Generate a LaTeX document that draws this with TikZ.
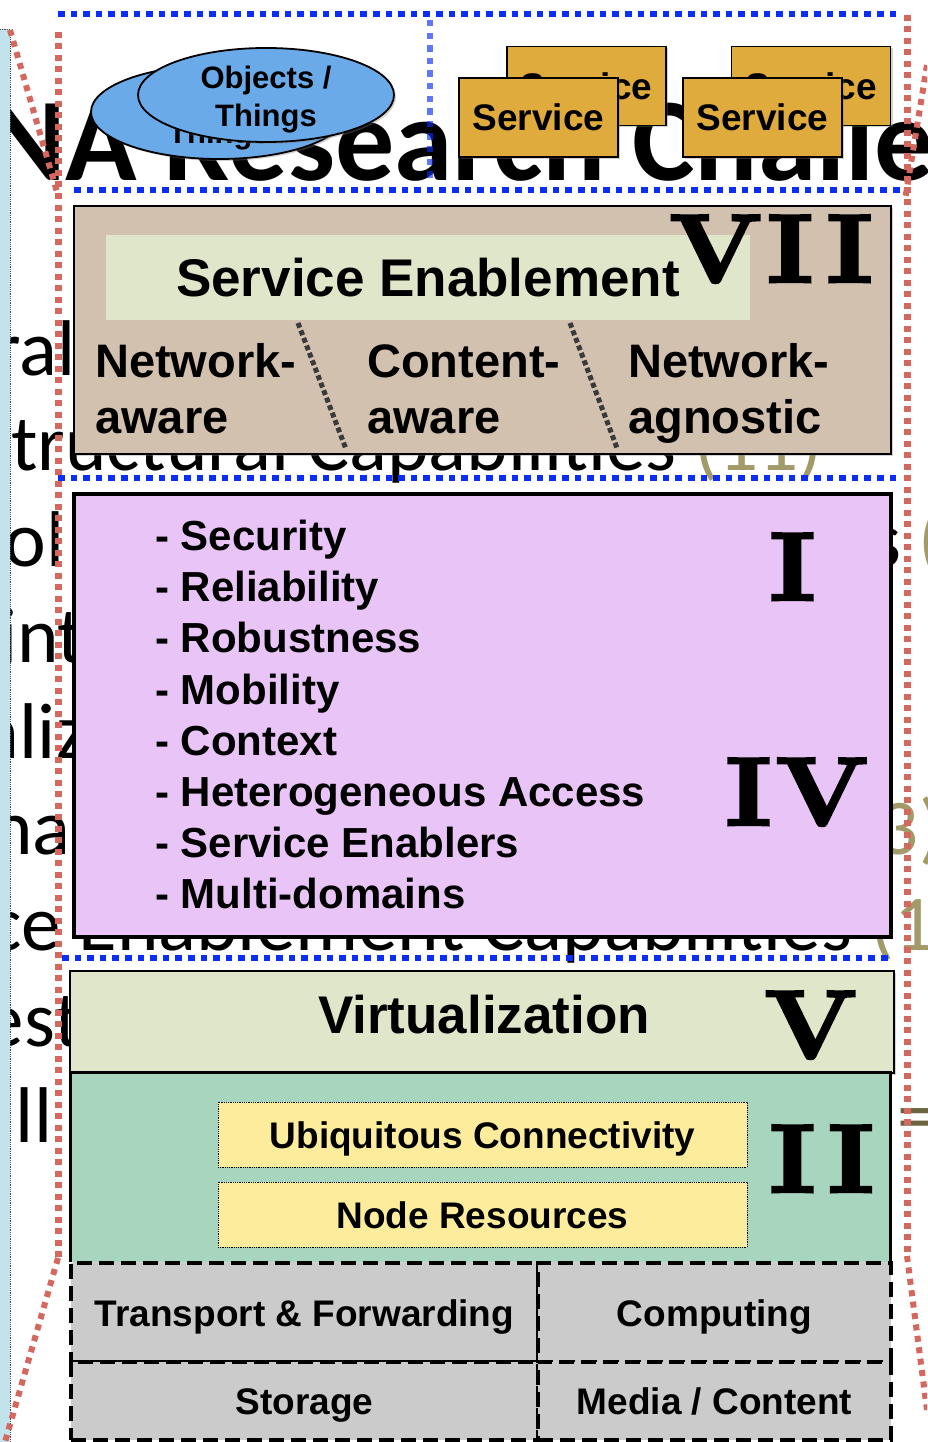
\documentclass[tikz,border=0pt]{standalone}
\usepackage{fontspec}
\usetikzlibrary{shapes.geometric,shadows}
\newfontfamily\arialf{Liberation Sans}
\newfontfamily\calf{Carlito}
\newfontfamily\numfont{lmroman10-bold.otf}[FakeBold=3, FakeStretch=1.1]
\definecolor{blueD}{HTML}{0A2EF5}
\definecolor{redD}{HTML}{D4675E}
\definecolor{stripc}{HTML}{C2E3EC}
\definecolor{brownc}{HTML}{D3C1B0}
\definecolor{lgreen}{HTML}{DFE6C9}
\definecolor{purpc}{HTML}{E9C5F7}
\definecolor{tealc}{HTML}{A8D5BE}
\definecolor{yelc}{HTML}{FCEC9B}
\definecolor{grayc}{HTML}{CBCBCB}
\definecolor{ellblue}{HTML}{6AAAE9}
\definecolor{svccol}{HTML}{DFAB3C}
\definecolor{olivetx}{HTML}{A39A6A}
\definecolor{eqcol}{HTML}{6B6440}
\definecolor{divcol}{HTML}{3A3A3A}
\begin{document}
\begin{tikzpicture}[x=1pt,y=-1pt,
  bgtext/.style={anchor=base west, inner sep=0pt, outer sep=0pt, font=\calf\fontsize{79}{79}\selectfont},
  reddot/.style={draw=redD, line width=6pt, dash pattern=on 6pt off 5.5pt},
  divdot/.style={draw=divcol, line width=5pt, dash pattern=on 5pt off 3pt},
  shad/.style={drop shadow={opacity=0.35, shadow xshift=2pt, shadow yshift=-2pt}},
  layer/.style={rectangle, draw=black, inner sep=0pt, shad},
  ellip/.style={ellipse, draw=black, line width=1.8pt, fill=ellblue, minimum width=256pt, minimum height=94pt, inner sep=0pt, shad},
  elltext/.style={align=center, inner sep=0pt, font=\arialf\bfseries\fontsize{31}{38}\selectfont},
  svc/.style={rectangle, draw=black, line width=1.5pt, fill=svccol, minimum width=159pt, minimum height=79pt, inner sep=0pt, text height=27pt, text depth=0pt, font=\arialf\bfseries\fontsize{37}{40}\selectfont, shad},
  big/.style={inner sep=0pt, font=\arialf\bfseries\fontsize{53}{60}\selectfont},
  mid/.style={anchor=base west, inner sep=0pt, font=\arialf\bfseries\fontsize{47}{56}\selectfont},
  item/.style={anchor=base west, inner sep=0pt, font=\arialf\bfseries\fontsize{42}{50}\selectfont},
  ybox/.style={rectangle, draw=black, line width=0.8pt, densely dotted, fill=yelc, minimum width=529pt, minimum height=65pt, inner sep=0pt, text height=27pt, text depth=0pt, font=\arialf\bfseries\fontsize{37}{40}\selectfont},
  gcell/.style={rectangle, draw=black, line width=4.5pt, dash pattern=on 15pt off 7pt, fill=grayc, inner sep=0pt, text height=27pt, text depth=0pt, font=\arialf\bfseries\fontsize{37}{40}\selectfont},
  numstyle/.style={anchor=base west, inner sep=0pt, font=\numfont\fontsize{97}{97}\selectfont}]
\useasboundingbox (0,0) rectangle (927,1442);
\clip (0,0) rectangle (927,1442);
\fill[white] (0,0) rectangle (927,1442);

% background slide text
\node[bgtext, font=\calf\bfseries\fontsize{118}{118}\selectfont] (title) at (-12,181) {NA Research Challenges};
\node[bgtext] (l1) at (-6,375) {ral};
\node[bgtext] (l2) at (11,470) {tructural Capabilities \textcolor{olivetx}{(11)}};
\node[bgtext] (l3) at (5,566) {ol};
\node[bgtext] (l3r) at (870,566) {s \textcolor{olivetx}{(}};
\node[bgtext] (l4) at (-1,662) {int};
\node[bgtext] (l5) at (-18,758) {aliz};
\node[bgtext] (l6) at (-9,854) {na};
\node[bgtext, text=olivetx] (l6r) at (855,854) {(3)};
\node[bgtext] (l7) at (-12,950) {ce Enablement Capabilities \textcolor{olivetx}{(1}};
\node[bgtext] (l8) at (-15,1046) {est};
\node[bgtext] (l9) at (16,1142) {ll};
\node[bgtext, text=eqcol] (l9r) at (897,1142) {=};

% left strip
\fill[stripc] (0,29) rectangle (10,1442);
\draw[densely dotted, line width=0.8pt, black!70] (0,29) -- (10,29) -- (10,1442);

% dotted frames (square dots)
\foreach \x in {58,70.6,...,898} {\fill[blueD] (\x,11) rectangle +(6.5,6);}
\foreach \y in {20,32.6,...,182} {\fill[blueD, opacity=0.65] (427,\y) rectangle +(6,6.5);}
\foreach \x in {74,86.6,...,898} {\fill[blueD] (\x,187) rectangle +(6.5,6);}
\foreach \x in {58,70.6,...,890} {\fill[blueD] (\x,475) rectangle +(6.5,6);}
\foreach \x in {62,74.6,...,888} {\fill[blueD] (\x,955) rectangle +(6.5,6);}
\foreach \y in {32,43.5,...,1252} {\fill[redD] (55,\y) rectangle +(6.5,6);}
\foreach \y in {15,26.5,...,1250} {\fill[redD] (904,\y) rectangle +(6.5,6);}
\draw[reddot] (58,1258) -- (5,1442);
\draw[reddot] (10,30) -- (57,192);
\draw[reddot] (907,1256) -- (927,1410);
\draw[reddot] (927,65) -- (905,200);

% objects / things
\node[ellip] (obj2) at (219,112) {};
\node[elltext] (obj2t) at (219,117) {Objects /\\Things};
\node[ellip] (obj1) at (266,95) {};
\node[elltext] (obj1t) at (266,100) {Objects /\\Things};

% services
\node[svc] (s1b) at (586.5,86) {Service};
\node[svc] (s1f) at (538.5,117.5) {Service};
\node[svc] (s2b) at (811,86) {Service};
\node[svc] (s2f) at (762.5,117.5) {Service};

% VII service enablement
\node[layer, fill=brownc, line width=2pt, minimum width=817pt, minimum height=248pt] (b7) at (482.5,330) {};
\node[big, fill=lgreen, minimum width=644pt, minimum height=85pt, text height=38pt, text depth=0pt] (se) at (428,277.5) {Service Enablement};
\node[numstyle] (n7) at (669,282) {V\kern5pt I\kern13pt I};
\draw[divdot] (298,323) -- (346,449);
\draw[divdot] (570,323) -- (617,448);
\node[mid] (na1) at (95,377) {Network-};
\node[mid] (na2) at (95,433) {aware};
\node[mid] (ca1) at (367,377) {Content-};
\node[mid] (ca2) at (367,433) {aware};
\node[mid] (ng1) at (628,377) {Network-};
\node[mid] (ng2) at (628,433) {agnostic};

% I / IV
\node[layer, fill=purpc, line width=3.5pt, minimum width=817pt, minimum height=443pt] (b1) at (482.5,715.5) {};
\node[item] (i1) at (155,550) {- Security};
\node[item] (i2) at (155,601) {- Reliability};
\node[item] (i3) at (155,652) {- Robustness};
\node[item] (i4) at (155,704) {- Mobility};
\node[item] (i5) at (155,755) {- Context};
\node[item] (i6) at (155,806) {- Heterogeneous Access};
\node[item] (i7) at (155,857) {- Service Enablers};
\node[item] (i8) at (155,908) {- Multi-domains};
\node[numstyle] (n1) at (769,600) {I};
\node[numstyle] (n4) at (725,825) {I\kern4pt V};

% V virtualization
\node[layer, fill=lgreen, line width=1.5pt, minimum width=824pt, minimum height=102pt] (b5) at (482,1022) {};
\node[big, anchor=base] (virt) at (484,1033) {Virtualization};
\node[numstyle] (n5) at (764,1058) {V};

% II
\node[rectangle, fill=tealc, inner sep=0pt, minimum width=819pt, minimum height=189pt, shad] (b2) at (480.5,1167.5) {};
\draw[line width=3.2pt] (b2.south west) -- (b2.north west) -- (b2.north east) -- (b2.south east);
\node[ybox] (uc) at (482.5,1134.5) {Ubiquitous Connectivity};
\node[ybox] (nr) at (482.5,1214.5) {Node Resources};
\node[numstyle] (n2) at (769,1192) {I\kern12pt I};

% resources
\node[gcell, minimum width=467pt, minimum height=99pt] (tf) at (304.5,1312.5) {Transport \& Forwarding};
\node[gcell, minimum width=353pt, minimum height=99pt] (cp) at (714.5,1312.5) {Computing};
\node[gcell, minimum width=467pt, minimum height=78pt] (st) at (304.5,1401) {Storage};
\node[gcell, minimum width=353pt, minimum height=78pt] (mc) at (714.5,1401) {Media / Content};
\end{tikzpicture}
\end{document}
